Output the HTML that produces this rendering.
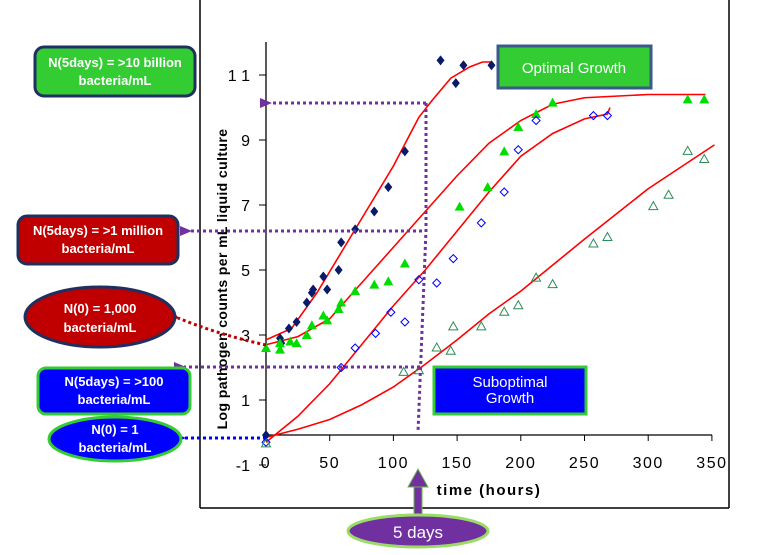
<!DOCTYPE html>
<html><head><meta charset="utf-8"><style>
body{margin:0;background:#fff;}
svg{display:block;font-family:"Liberation Sans",sans-serif;}
.bx{font-family:"Liberation Sans Narrow","Liberation Sans",sans-serif;}
</style></head><body>
<svg id="chart" width="757" height="555" viewBox="0 0 757 555">
<g id="frame">
<line x1="200" y1="0" x2="200" y2="508" stroke="#000" stroke-width="1.5"/>
<line x1="729" y1="0" x2="729" y2="508" stroke="#000" stroke-width="1.5"/>
<line x1="200" y1="508" x2="729" y2="508" stroke="#000" stroke-width="1.5"/>
</g>
<g id="axes"></g>
<g id="curves"></g>
<g id="points"></g>
<g id="annot">
<defs>
<marker id="ap" markerUnits="userSpaceOnUse" markerWidth="12" markerHeight="12" refX="2" refY="6" orient="auto"><path d="M12,1 L0,6 L12,11 Z" fill="#7030a0"/></marker>
<marker id="ar" markerUnits="userSpaceOnUse" markerWidth="12" markerHeight="12" refX="2" refY="6" orient="auto"><path d="M12,1 L0,6 L12,11 Z" fill="#c00000"/></marker>
<marker id="ab" markerUnits="userSpaceOnUse" markerWidth="12" markerHeight="12" refX="2" refY="6" orient="auto"><path d="M12,1 L0,6 L12,11 Z" fill="#0000ff"/></marker>
</defs>
<g stroke-dasharray="3,3" fill="none" stroke-width="3">
<polyline points="426,103 270,103" stroke="#7030a0" marker-end="url(#ap)"/>
<polyline points="426,103 426,230 418,432" stroke="#7030a0"/>
<polyline points="422,231 190,231" stroke="#7030a0" marker-end="url(#ap)"/>
<polyline points="420,367 184,367" stroke="#7030a0" marker-end="url(#ap)"/>
<path d="M266,345 Q220,335 178,318" stroke="#c00000" marker-end="url(#ar)"/>
<polyline points="266,438 184,438" stroke="#0000ff" marker-end="url(#ab)"/>
</g>
<g class="bx">
<rect x="35" y="47" width="160" height="49" rx="9" fill="#33cc33" stroke="#1f2f5f" stroke-width="3"/>
<text x="115" y="67" text-anchor="middle" fill="#fff" font-size="13" font-weight="bold">N(5days) = &gt;10 billion</text>
<text x="115" y="85" text-anchor="middle" fill="#fff" font-size="13" font-weight="bold">bacteria/mL</text></g>
<g class="bx">
<rect x="18" y="216" width="160" height="48" rx="9" fill="#c00000" stroke="#1f2f5f" stroke-width="3"/>
<text x="98" y="235" text-anchor="middle" fill="#fff" font-size="13" font-weight="bold">N(5days) = &gt;1 million</text>
<text x="98" y="253" text-anchor="middle" fill="#fff" font-size="13" font-weight="bold">bacteria/mL</text></g>
<g class="bx">
<ellipse cx="100" cy="317" rx="75" ry="30" fill="#c00000" stroke="#1f2f5f" stroke-width="3"/>
<text x="100" y="313" text-anchor="middle" fill="#fff" font-size="13" font-weight="bold">N(0) = 1,000</text>
<text x="100" y="332" text-anchor="middle" fill="#fff" font-size="13" font-weight="bold">bacteria/mL</text></g>
<g class="bx">
<rect x="38" y="368" width="152" height="46" rx="8" fill="#0000ff" stroke="#33cc33" stroke-width="3"/>
<text x="114" y="386" text-anchor="middle" fill="#fff" font-size="13" font-weight="bold">N(5days) = &gt;100</text>
<text x="114" y="404" text-anchor="middle" fill="#fff" font-size="13" font-weight="bold">bacteria/mL</text></g>
<g class="bx">
<ellipse cx="115" cy="439" rx="66" ry="22" fill="#0000ff" stroke="#33cc33" stroke-width="3"/>
<text x="115" y="434" text-anchor="middle" fill="#fff" font-size="13" font-weight="bold">N(0) = 1</text>
<text x="115" y="452" text-anchor="middle" fill="#fff" font-size="13" font-weight="bold">bacteria/mL</text></g>
<g>
<rect x="498" y="46" width="153" height="42" fill="#33cc33" stroke="#3a5a8a" stroke-width="3"/>
<text x="574" y="73" text-anchor="middle" fill="#fff" font-size="15">Optimal Growth</text></g>
<g>
<rect x="434" y="367" width="152" height="47" fill="#0000ff" stroke="#33cc33" stroke-width="3"/>
<text x="510" y="387" text-anchor="middle" fill="#fff" font-size="15">Suboptimal</text>
<text x="510" y="403" text-anchor="middle" fill="#fff" font-size="15">Growth</text></g>
<g>
<rect x="414" y="486" width="8" height="42" fill="#7030a0" stroke="#66bb44" stroke-width="1"/>
<path d="M408,487 L418,469 L428,487 Z" fill="#7030a0" stroke="#66bb44" stroke-width="1"/>
<ellipse cx="418" cy="531" rx="70" ry="16" fill="#7030a0" stroke="#99dd66" stroke-width="3"/>
<text x="418" y="538" text-anchor="middle" fill="#fff" font-size="17">5 days</text></g>
</g>
</svg>
<script>
const yTicks=[11,9,7,5,3,1,-1];
const xTicks=[0,50,100,150,200,250,300,350];
const optT=[0,11,12,18,24,32,36,37,45,48,57,59,70,85,96,109,137,149,155,177];
const optV=[-0.08,2.9,2.75,3.2,3.4,4.0,4.3,4.4,4.8,4.4,5.0,5.85,6.25,6.8,7.55,8.65,11.45,10.75,11.3,11.3];
const gT=[0,11,11,19,24,32,36,45,48,57,59,70,85,96,109,152,174,187,198,212,225,331,344];
const gV=[2.6,2.55,2.75,2.8,2.75,3.0,3.3,3.6,3.45,3.8,4.0,4.35,4.55,4.65,5.2,6.95,7.55,8.65,9.4,9.8,10.15,10.25,10.25];
const bT=[0,59,70,86,98,109,120,134,147,169,187,198,212,257,268];
const bV=[-0.3,2.0,2.6,3.05,3.7,3.4,4.7,4.6,5.35,6.45,7.4,8.7,9.6,9.75,9.75];
const oT=[0,108,120,134,145,147,169,187,198,212,225,257,268,304,316,331,344];
const oV=[-0.35,1.85,1.9,2.6,2.5,3.25,3.25,3.7,3.9,4.75,4.55,5.8,6.0,6.95,7.3,8.65,8.4];
const c1T=[0,20,40,60,80,100,120,130,145,160,170,177];
const c1V=[2.85,3.2,4.3,5.6,6.9,8.2,9.7,10.2,10.9,11.25,11.4,11.4];
const c2T=[0,25,50,75,100,125,150,175,200,225,250,275,300,345];
const c2V=[2.7,2.95,3.5,4.6,5.7,6.8,7.9,8.9,9.6,10.1,10.3,10.35,10.4,10.4];
const c3T=[0,25,50,75,100,125,150,175,200,225,250,268,270];
const c3V=[-0.3,0.5,1.5,2.7,3.9,5.0,6.2,7.4,8.5,9.2,9.65,9.8,10.0];
const c4T=[0,25,50,75,100,125,150,175,200,250,300,352];
const c4V=[-0.15,0.1,0.4,0.85,1.4,2.1,2.85,3.65,4.35,5.95,7.5,8.85];

const NS="http://www.w3.org/2000/svg";
const X=t=>266+t*1.274;
const Y=v=>432.5-v*32.5;
function mk(tag,attrs,parent){const e=document.createElementNS(NS,tag);for(const k in attrs)e.setAttribute(k,attrs[k]);parent.appendChild(e);return e;}
const ax=document.getElementById('axes');
let l=mk('line',{x1:266,y1:42,x2:266,y2:435,stroke:'#000','stroke-width':1.3},ax);


l=mk('line',{x1:266,y1:435,x2:712,y2:435,stroke:'#000','stroke-width':1.3},ax);


yTicks.forEach(v=>{
 const tk=mk('line',{x1:259,y1:Y(v),x2:266,y2:Y(v),stroke:'#000'},ax);
 
 
 const tx=mk('text',{x:250,y:Y(v)+6,'text-anchor':'end','font-size':16,fill:'#000'},ax);
 tx.textContent=String(v).split('').join(v>=10?' ':'');
 
 
});
xTicks.forEach(t=>{
 const tk=mk('line',{x1:X(t),y1:435,x2:X(t),y2:441,stroke:'#000'},ax);
 
 
 const tx=mk('text',{x:X(t),y:468,'text-anchor':'middle','font-size':16,'letter-spacing':'1.5',fill:'#000'},ax);
 tx.textContent=t;
 
 
});
let tt=mk('text',{x:489,y:495,'text-anchor':'middle','font-size':15,'font-weight':'bold','letter-spacing':'1.5'},ax);
tt.textContent='time (hours)';


tt=mk('text',{transform:'translate(227,279) rotate(-90)','text-anchor':'middle','font-size':14,'font-weight':'bold','letter-spacing':'0.4'},ax);
tt.textContent='Log pathogen counts per mL liquid culture';



const cg=document.getElementById('curves');
[[c1T,c1V,'fit-curve-optimal-1000'],[c2T,c2V,'fit-curve-green'],[c3T,c3V,'fit-curve-blue'],[c4T,c4V,'fit-curve-suboptimal-1']].forEach(([T,V,n])=>{
 const p=mk('polyline',{points:T.map((t,i)=>X(t)+','+Y(V[i])).join(' '),fill:'none',stroke:'#ff0000','stroke-width':1.6},cg);
 
 
});
const pg=document.getElementById('points');
optT.forEach((t,i)=>{const x=X(t),y=Y(optV[i]);
 const e=mk('path',{d:`M${x},${y-5} L${x+4},${y} L${x},${y+5} L${x-4},${y} Z`,fill:'#0a1a6a'},pg);
 
 });
gT.forEach((t,i)=>{const x=X(t),y=Y(gV[i]);
 const e=mk('path',{d:`M${x},${y-5} L${x+5},${y+4} L${x-5},${y+4} Z`,fill:'#00dd00'},pg);
 
 });
bT.forEach((t,i)=>{const x=X(t),y=Y(bV[i]);
 const e=mk('path',{d:`M${x},${y-4} L${x+4},${y} L${x},${y+4} L${x-4},${y} Z`,fill:'none',stroke:'#0000ff','stroke-width':1},pg);
 
 });
oT.forEach((t,i)=>{const x=X(t),y=Y(oV[i]);
 const e=mk('path',{d:`M${x},${y-5} L${x+4.5},${y+3} L${x-4.5},${y+3} Z`,fill:'none',stroke:'#2e8b57','stroke-width':1},pg);
 
 });
</script>
</body></html>
